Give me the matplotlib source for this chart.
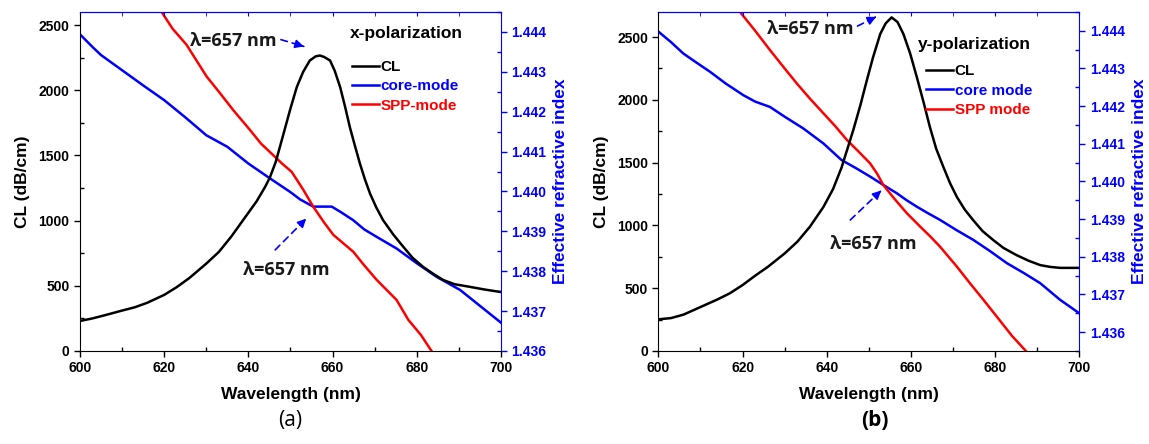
import numpy as np
import matplotlib
matplotlib.use("Agg")
import matplotlib.pyplot as plt
from matplotlib.ticker import MultipleLocator, AutoMinorLocator
from matplotlib.lines import Line2D

plt.rcParams['font.family'] = ['Liberation Sans', 'DejaVu Sans']

# ---- panel (a): x-polarization ----
wl_cl_a = [600, 603, 606, 610, 613, 616, 620, 623, 626, 630, 633, 636, 640, 642, 644, 645.1,
           646.5, 648.3, 650, 651.5, 653, 654.6, 656, 657, 658, 659.4, 660.5, 661.8, 663,
           664.1, 665.3, 666.5, 667.7, 668.9, 670.4, 672, 674.5, 676.8, 679, 681.5, 684,
           686.3, 689, 692.6, 696, 700]
cl_a = [230, 250, 275, 310, 335, 370, 430, 490, 560, 670, 760, 880, 1060, 1150, 1260, 1330,
        1450, 1660, 1860, 2024, 2140, 2228, 2260, 2266, 2255, 2228, 2150, 2024, 1870,
        1717, 1575, 1437, 1315, 1207, 1100, 1003, 890, 799, 715, 645, 590,
        544, 512, 492, 472, 452]

wl_core_a = [600, 603, 605, 610, 615, 620, 625, 630, 635, 640, 645.1, 649.9, 652.3, 655.4,
             659.8, 662, 664.9, 667.5, 670.5, 675.2, 680, 684.7, 690.3, 694.2, 700]
core_a = [1.44394, 1.44362, 1.44342, 1.44304, 1.44266, 1.44229, 1.44186, 1.44141, 1.44112,
          1.4407, 1.44033, 1.43999, 1.4398, 1.43962, 1.43962, 1.43948, 1.43928, 1.43905,
          1.43886, 1.43857, 1.4382, 1.43786, 1.43753, 1.4372, 1.43671]

wl_spp_a = [617, 619.4, 622, 625.3, 630.1, 633, 636.4, 640.4, 643, 645.1, 648, 650.3, 653,
            655.4, 658, 660.2, 664.9, 667.5, 670.5, 675.2, 678, 681, 683.5, 686]
spp_a = [1.4448, 1.4445, 1.44408, 1.44368, 1.44288, 1.44250, 1.44204, 1.44154, 1.44120,
         1.44099, 1.44070, 1.44049, 1.44005, 1.43962, 1.43922, 1.43891, 1.43849, 1.43815,
         1.43778, 1.43728, 1.43678, 1.43640, 1.436, 1.4356]

# ---- panel (b): y-polarization ----
wl_cl_b = [600, 603, 606, 610, 614, 617, 620, 623, 626, 630, 633, 636, 639.2, 641.5, 643.5,
           645, 646.3, 648, 649.5, 651, 652.7, 654, 655.4, 656.8, 658.2, 659.8, 661.4, 663,
           664.5, 666, 667.7, 669.3, 670.9, 672.8, 674.8, 677, 679.6, 682, 685.1, 688,
           690.7, 693, 695.4, 700]
cl_b = [252, 262, 290, 350, 410, 460, 525, 600, 670, 777, 870, 990, 1147, 1290, 1460,
        1620, 1760, 1960, 2154, 2340, 2525, 2610, 2657, 2620, 2525, 2370, 2180, 1980,
        1783, 1610, 1465, 1335, 1227, 1125, 1041, 955, 882, 820, 763, 718,
        684, 670, 662, 662]

wl_core_b = [600, 603, 605.9, 609, 612.3, 616, 620.2, 623, 626.5, 630, 634.4, 639.2, 643.5,
             647, 650.3, 653.4, 656.6, 659, 661.4, 664, 666.9, 670.8, 674.8, 678.8, 682.8,
             686.8, 690.7, 695.4, 700]
core_b = [1.44398, 1.44370, 1.4434, 1.44316, 1.44291, 1.44260, 1.44229, 1.44212, 1.44198,
          1.44172, 1.44141, 1.44101, 1.44057, 1.44035, 1.44013, 1.43991, 1.43969, 1.43950,
          1.43933, 1.43916, 1.43898, 1.43871, 1.43845, 1.43815, 1.43783, 1.43757,
          1.4373, 1.43686, 1.4365]

wl_spp_b = [617, 619.4, 623, 626.5, 630, 632.9, 636, 639.2, 642, 644.8, 647.5, 650.3, 652,
            653.4, 656, 659, 662.2, 664.5, 666.9, 670.9, 674, 677.2, 680.4, 684, 687.3, 690]
spp_b = [1.4449, 1.4445, 1.4440, 1.44349, 1.44300, 1.4426, 1.4422, 1.44181, 1.44147,
         1.4411, 1.4408, 1.44048, 1.4402, 1.43991, 1.43955, 1.43916, 1.4388, 1.43855,
         1.43827, 1.43774, 1.4373, 1.43686, 1.43641, 1.4359, 1.4355, 1.4352]

panels = [
    dict(rect=[0.0696, 0.2095, 0.3664, 0.7635], wl_cl=wl_cl_a, cl=cl_a, wl_core=wl_core_a,
         core=core_a, wl_spp=wl_spp_a, spp=spp_a, cl_top=2600, n_lim=(1.436, 1.4445),
         n_ticks=np.arange(1.436, 1.4445, 0.001), pol="x-polarization",
         labels=["CL", "core-mode", "SPP-mode"], pol_xy=(0.641, 0.938), leg_xy=(0.645, 0.858),
         txt1=(636.5, 2381), arr1=((647.1, 2394), (653.8, 2330)),
         txt2=(649.0, 620), arr2=((645.9, 760), (654.2, 1030)),
         tag="(a)", tag_x=290 / 1149, tag_w="normal"),
    dict(rect=[0.5730, 0.2095, 0.3664, 0.7635], wl_cl=wl_cl_b, cl=cl_b, wl_core=wl_core_b,
         core=core_b, wl_spp=wl_spp_b, spp=spp_b, cl_top=2700, n_lim=(1.4355, 1.4445),
         n_ticks=np.arange(1.436, 1.4445, 0.001), pol="y-polarization",
         labels=["CL", "core mode", "SPP mode"], pol_xy=(0.617, 0.905), leg_xy=(0.635, 0.846),
         txt1=(636.0, 2565), arr1=((646.7, 2578), (652.3, 2671)),
         txt2=(651.1, 856), arr2=((645.1, 1028), (653.4, 1293)),
         tag="(b)", tag_x=875 / 1149, tag_w="bold"),
]

fig = plt.figure(figsize=(11.49, 4.44), dpi=100)

for p in panels:
    ax = fig.add_axes(p["rect"])
    ax2 = ax.twinx()
    ax.set_zorder(ax2.get_zorder() + 1)
    ax.patch.set_visible(False)

    ax.plot(p["wl_cl"], p["cl"], color="black", lw=1.8)
    ax2.plot(p["wl_core"], p["core"], color="blue", lw=1.8)
    ax2.plot(p["wl_spp"], p["spp"], color="red", lw=1.8)

    ax.set_xlim(600, 700)
    ax.set_ylim(0, p["cl_top"])
    ax2.set_ylim(*p["n_lim"])
    ax.xaxis.set_major_locator(MultipleLocator(20))
    ax.xaxis.set_minor_locator(MultipleLocator(10))
    ax.yaxis.set_major_locator(MultipleLocator(500))
    ax.yaxis.set_minor_locator(MultipleLocator(250))
    ax2.set_yticks(p["n_ticks"])
    ax2.set_yticklabels([f"{v:.3f}" for v in p["n_ticks"]])
    ax2.yaxis.set_minor_locator(AutoMinorLocator(2))

    ax.tick_params(which="major", direction="out", length=4, width=1, labelsize=10)
    ax.tick_params(which="minor", direction="in", length=3, width=1)
    ax2.tick_params(which="major", direction="out", length=4, width=1, colors="blue", labelsize=10)
    ax2.tick_params(which="minor", direction="in", length=3, width=1, colors="blue")
    for lab in ax.get_xticklabels() + ax.get_yticklabels() + ax2.get_yticklabels():
        lab.set_fontweight("bold")

    for s in ["right", "top"]:
        ax.spines[s].set_visible(False)
    ax2.spines["left"].set_visible(False)
    ax2.spines["bottom"].set_visible(False)
    ax2.spines["right"].set_color("blue")
    ax2.spines["top"].set_color("blue")
    top = ax.secondary_xaxis("top")
    top.xaxis.set_major_locator(MultipleLocator(20))
    top.xaxis.set_minor_locator(MultipleLocator(10))
    top.tick_params(which="both", direction="in", length=3, colors="blue", labeltop=False)
    top.spines["top"].set_color("blue")

    ax.set_xlabel("Wavelength (nm)", fontsize=12.5, fontweight="bold", labelpad=8)
    ax.set_ylabel("CL (dB/cm)", fontsize=12.5, fontweight="bold", labelpad=6)
    ax2.set_ylabel("Effective refractive index", fontsize=12.5, fontweight="bold",
                   color="blue", labelpad=5)

    ax.text(p["pol_xy"][0], p["pol_xy"][1], p["pol"], transform=ax.transAxes,
            fontsize=12.5, fontweight="bold", ha="left", va="center")
    handles = [Line2D([], [], color=c, lw=1.8) for c in ["black", "blue", "red"]]
    ax.legend(handles, p["labels"], loc="upper left", bbox_to_anchor=p["leg_xy"],
              frameon=False, borderpad=0, borderaxespad=0, handlelength=1.8,
              handletextpad=0.1, labelspacing=0.35, labelcolor=["black", "blue", "red"],
              prop={"weight": "bold", "size": 11})

    for txt, arr in [(p["txt1"], p["arr1"]), (p["txt2"], p["arr2"])]:
        ax.text(txt[0], txt[1], "λ=657 nm", fontsize=13, fontweight="bold", color="#1a1a1a",
                ha="center", va="center", family=["Open Sans", "DejaVu Sans"])
        ax.annotate("", xy=arr[1], xytext=arr[0],
                    arrowprops=dict(arrowstyle="-", color="blue", lw=1.2, ls=(0, (4, 3))))
        (x0, y0), (x1, y1) = arr
        ax.annotate("", xy=arr[1], xytext=(x0 + 0.75 * (x1 - x0), y0 + 0.75 * (y1 - y0)),
                    arrowprops=dict(arrowstyle="-|>,head_length=0.5,head_width=0.25",
                                    color="blue", lw=1.2))

    fig.text(p["tag_x"], 1 - 420 / 444, p["tag"], fontsize=15, fontweight=p["tag_w"],
             ha="center", va="center", family=["Open Sans", "DejaVu Sans"])

fig.savefig("out.png", dpi=100)
